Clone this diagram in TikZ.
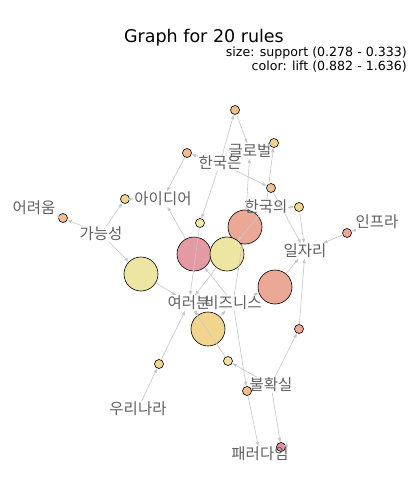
\documentclass[tikz,border=0pt]{standalone}
\usepackage{fontspec}
\setmainfont{DejaVu Sans}
\newfontfamily\kr{Noto Sans CJK KR}
\usetikzlibrary{arrows.meta}
\definecolor{cpink}{HTML}{E39AA3}
\definecolor{cpinkd}{HTML}{E3909A}
\definecolor{cyel}{HTML}{EDE6A2}
\definecolor{cyelp}{HTML}{F0EAA6}
\definecolor{csal}{HTML}{ECA897}
\definecolor{corg}{HTML}{F2BF8C}
\definecolor{cgold}{HTML}{F1D48D}
\definecolor{cgy}{HTML}{F1E0A0}
\definecolor{edgec}{HTML}{C8C8C8}
\begin{document}
\begin{tikzpicture}[x=1pt,y=-1pt,
  item/.style={font=\kr\fontsize{15.5}{15.5}\selectfont, text=black!62, inner sep=0.5pt},
  rulev/.style={circle, draw=black, line width=0.6pt, inner sep=0pt},
  sm/.style={rulev, minimum size=9pt},
  lg/.style={rulev, minimum size=34pt},
  edge/.style={draw=edgec, line width=0.6pt, -{Triangle[length=4.5pt,width=3.2pt]}}
]
\useasboundingbox (0,0) rectangle (412,488);
\fill[white] (0,0) rectangle (412,488);

% title
\node (title) at (204,38) {\fontsize{17.5}{18}\selectfont Graph for 20 rules};
\node[anchor=east, inner sep=0pt] (sub1) at (407,53) {\fontsize{12.6}{12.6}\selectfont size: support (0.278 - 0.333)};
\node[anchor=east, inner sep=0pt] (sub2) at (407,67) {\fontsize{12.6}{12.6}\selectfont color: lift (0.882 - 1.636)};

% rule vertices
\node[sm, fill=corg]  (r1)  at (63,218) {};
\node[sm, fill=cgold] (r2)  at (125,199) {};
\node[lg, fill=cyel]  (r3)  at (141,274) {};
\node[sm, fill=corg]  (r4)  at (187,153) {};
\node[sm, fill=corg]  (r5)  at (235,110) {};
\node[sm, fill=cgold] (r6)  at (274,143) {};
\node[sm, fill=corg]  (r7)  at (271,188) {};
\node[sm, fill=cgold] (r8)  at (299,207) {};
\node[sm, fill=csal]  (r9)  at (347,233) {};
\node[lg, fill=csal]  (r10) at (275,287) {};
\node[sm, fill=csal]  (r11) at (299,329) {};
\node[lg, fill=csal]  (r12) at (245,227) {};
\node[lg, fill=cpink] (r13) at (194,254) {};
\node[sm, fill=cyelp] (r14) at (200,223) {};
\node[lg, fill=cyel]  (r15) at (227,254) {};
\node[lg, fill=cgold] (r16) at (208,329) {};
\node[sm, fill=cgold] (r17) at (159,364) {};
\node[sm, fill=cgy]   (r18) at (228,361) {};
\node[sm, fill=corg]  (r19) at (247,391) {};
\node[sm, fill=cpinkd](r20) at (281,447) {};

% item labels
\node[item] (eoryeoum) at (34,208) {어려움};
\node[item] (ganeung) at (101,234) {가능성};
\node[item] (idea) at (163,199) {아이디어};
\node[item] (hkeun) at (220,163) {한국은};
\node[item] (global) at (250,151) {글로벌};
\node[item] (hkui) at (266,207) {한국의};
\node[item] (job) at (305,251) {일자리};
\node[item] (infra) at (377,222) {인프라};
\node[item] (yeoreo) at (189,303) {여러분};
\node[item] (biz) at (233,303) {비즈니스};
\node[item] (uncert) at (271,385) {불확실};
\node[item] (urinara) at (138,409) {우리나라};
\node[item] (paradigm) at (260,454) {패러다임};

% edges
\draw[edge] (ganeung) -- (r1);  \draw[edge] (r1) -- (eoryeoum);
\draw[edge] (ganeung) -- (r2);  \draw[edge] (r2) -- (idea);
\draw[edge] (ganeung) -- (r3);  \draw[edge] (r3) -- (yeoreo);
\draw[edge] (hkeun) -- (r4);    \draw[edge] (r4) -- (idea);
\draw[edge] (hkeun) -- (r5);    \draw[edge] (r5) -- (global);
\draw[edge] (hkui) -- (r6);     \draw[edge] (r6) -- (global);
\draw[edge] (hkeun) -- (r7);    \draw[edge] (r7) -- (job);
\draw[edge] (hkui) -- (r8);     \draw[edge] (r8) -- (job);
\draw[edge] (infra) -- (r9);    \draw[edge] (r9) -- (job);
\draw[edge] (biz) -- (r10);     \draw[edge] (r10) -- (job);
\draw[edge] (uncert) -- (r11);  \draw[edge] (r11) -- (job);
\draw[edge] (biz) -- (r12);     \draw[edge] (r12) -- (global);
\draw[edge] (biz) -- (r13);     \draw[edge] (r13) -- (idea);
\draw[edge] (hkeun) -- (r14);   \draw[edge] (r14) -- (yeoreo);
\draw[edge] (hkui) -- (r15);    \draw[edge] (r15) -- (yeoreo);
\draw[edge] (yeoreo) -- (r16);  \draw[edge] (r16) -- (biz);
\draw[edge] (urinara) -- (r17); \draw[edge] (r17) -- (yeoreo);
\draw[edge] (uncert) -- (r18);  \draw[edge] (r18) -- (yeoreo);
\draw[edge] (biz) -- (r19);     \draw[edge] (r19) -- (paradigm);
\draw[edge] (uncert) -- (r20);  \draw[edge] (r20) -- (paradigm);
\end{tikzpicture}
\end{document}
